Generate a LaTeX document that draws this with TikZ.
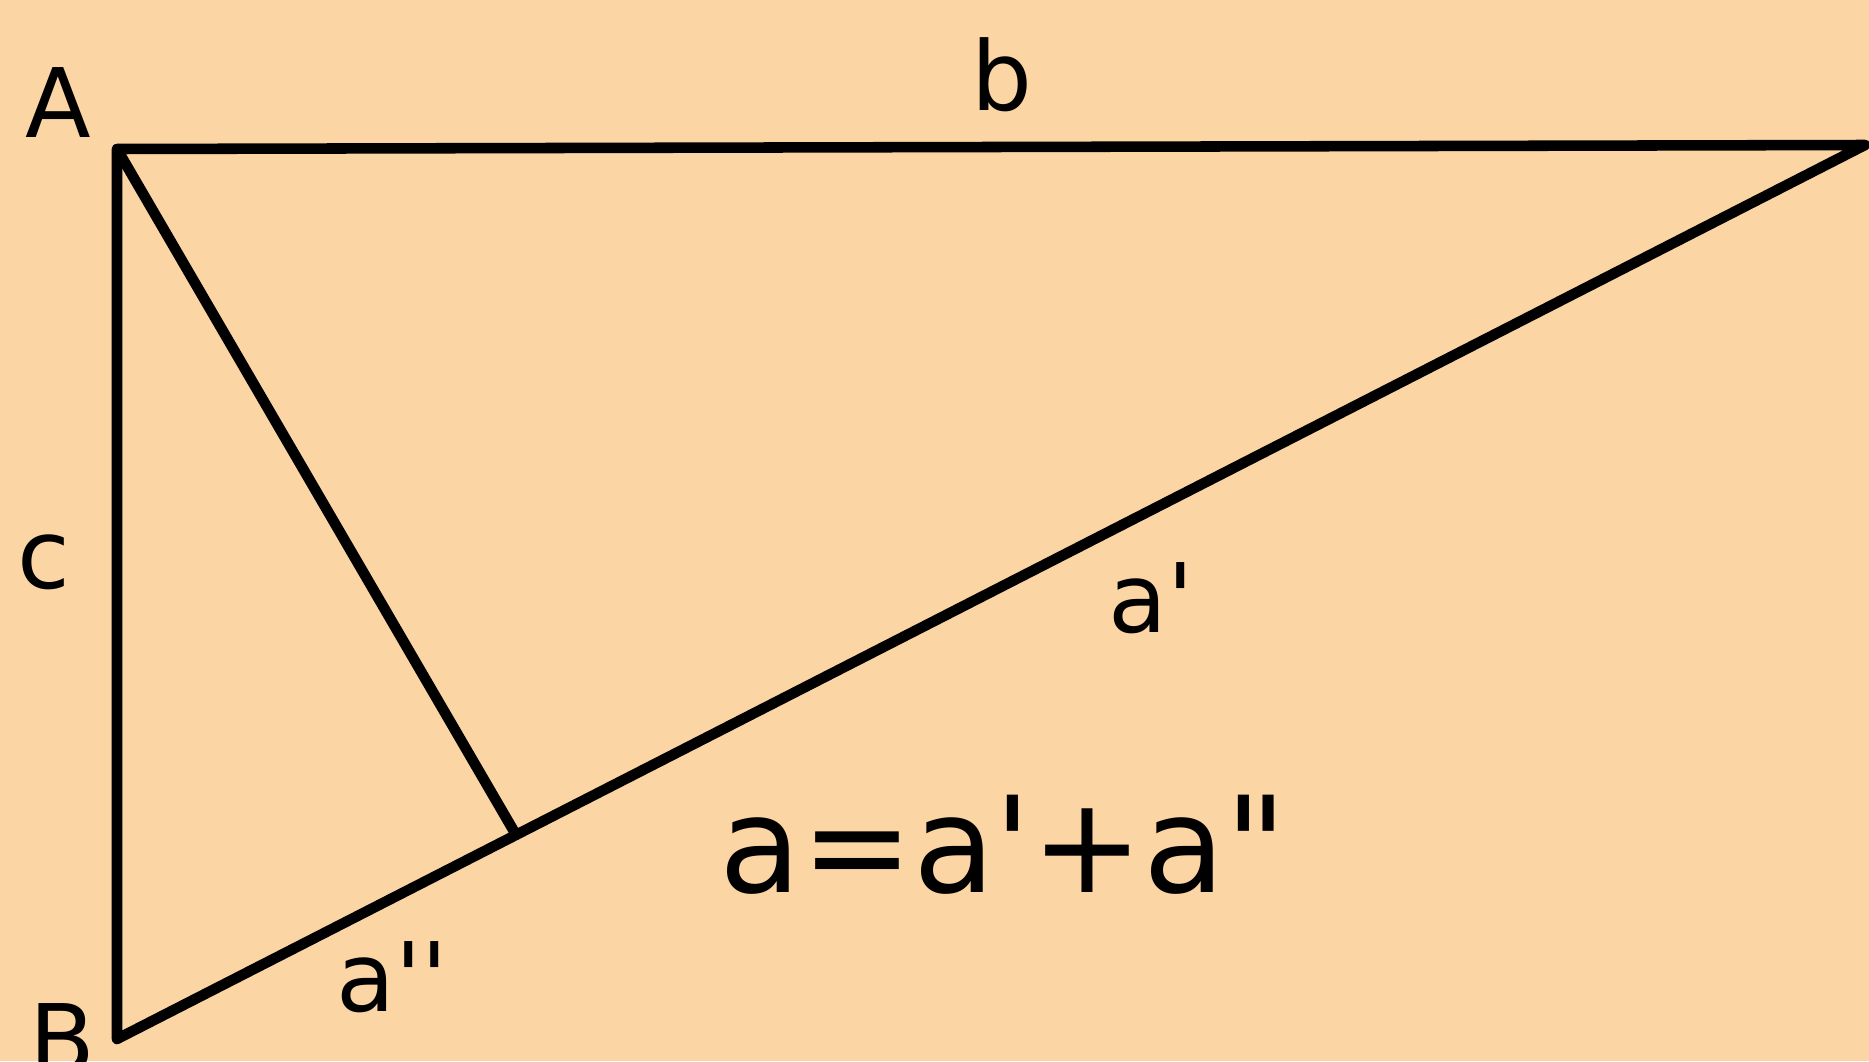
\documentclass[tikz,border=0pt]{standalone}
\usepackage{fontspec}
\setmainfont{DejaVu Sans}[Ligatures=TeXOff]
\usetikzlibrary{calc}

\definecolor{peach}{RGB}{252,213,165}

\begin{document}
\begin{tikzpicture}[
    lbl/.style={anchor=base, inner sep=0pt, font=\fontsize{27.3}{30}\selectfont},
    eqn/.style={anchor=base, inner sep=0pt, font=\fontsize{38}{42}\selectfont},
    side/.style={line width=3pt, line join=round, line cap=round}
  ]
    \fill[peach] (0,0) rectangle (18.69,10.61);
    \useasboundingbox (0,0) rectangle (18.69,10.61);

    \coordinate (A) at (1.17,9.12);
    \coordinate (B) at (1.17,0.22);
    \coordinate (C) at (18.65,9.16);
    \coordinate (D) at ($(B)!0.2283!(C)$);

    \draw[side] (A) -- (C) -- (B) -- cycle;
    \draw[side] (A) -- (D);

    \node[lbl] (lA)  at (0.58,9.24)  {A};
    \node[lbl] (lB)  at (0.62,-0.12) {B};
    \node[lbl] (lb)  at (10.02,9.51) {b};
    \node[lbl] (lc)  at (0.44,4.73)  {c};
    \node[lbl] (la1) at (11.51,4.29) {a'};
    \node[lbl] (la2) at (3.92,0.50)  {a''};
    \node[eqn] (sum) at (10.03,1.69) {a=a'+a"};
  \end{tikzpicture}
\end{document}
